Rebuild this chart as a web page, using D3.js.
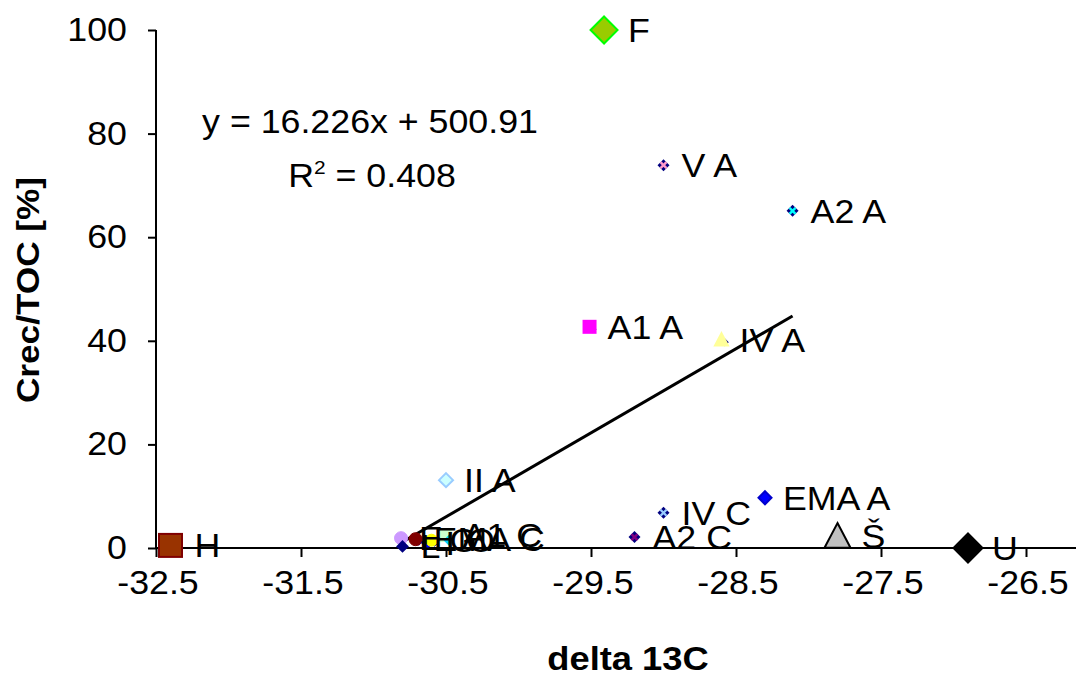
<!DOCTYPE html>
<html>
<head>
<meta charset="utf-8">
<script src="https://cdn.jsdelivr.net/npm/d3@7"></script>
<style>
  body { margin: 0; background: #fff; }
  svg { font-family: Arial, "Liberation Sans", sans-serif; }
</style>
</head>
<body>
<script>
// sample labels and their values (delta 13C, Crec/TOC %)
var labels = ['H', 'F', 'U', 'Š', 'V A', 'A2 A', 'A1 A', 'IV A', 'II A', 'IV C', 'EMA A', 'A2 C',
              'E', 'L', 'EMA C', 'I', 'G', 'A1 C', 'O'];
var deltaC = [-32.4, -29.41, -26.9, -27.8, -29.0, -28.11, -29.51, -28.6, -30.5, -29.0, -28.3, -29.2,
              -30.81, -30.8, -30.71, -30.63, -30.6, -30.51, -30.48];
var crecToc = [0.5, 100, 0, 2.3, 73.9, 65.1, 42.7, 40.2, 13.1, 6.8, 9.7, 2.1,
               1.9, 0.3, 1.7, 1.0, 1.5, 2.5, 1.5];
var xTicks = [-32.5, -31.5, -30.5, -29.5, -28.5, -27.5, -26.5];
var yTicks = [0, 20, 40, 60, 80, 100];
// trend line from the regression shown on the chart
var slope = 16.226, intercept = 500.91, r2 = 0.408;
var trendRange = [-30.8, -28.11];

// marker look for each label
var marks = {
  'H':     {shape: 'square',   size: 23, fill: '#993300', stroke: '#800000'},
  'F':     {shape: 'diamond',  size: 27, fill: '#99cc00', stroke: '#00ff00'},
  'U':     {shape: 'diamond',  size: 29, fill: '#000000', stroke: '#000000'},
  'Š':     {shape: 'triangle', size: 26, fill: '#c0c0c0', stroke: '#000000'},
  'V A':   {shape: 'star',     size: 12, fill: '#ff99cc', stroke: '#000080'},
  'A2 A':  {shape: 'star',     size: 12, fill: '#00ffff', stroke: '#000080'},
  'A1 A':  {shape: 'square',   size: 12, fill: '#ff00ff', stroke: '#ff00ff', back: true},
  'IV A':  {shape: 'triangle', size: 13, fill: '#ffff99', stroke: '#ffff99', back: true},
  'II A':  {shape: 'diamond',  size: 14, fill: '#ccffff', stroke: '#99ccff'},
  'IV C':  {shape: 'star',     size: 12, fill: '#99ccff', stroke: '#000080'},
  'EMA A': {shape: 'diamond',  size: 13, fill: '#0000ff', stroke: '#0000cc'},
  'A2 C':  {shape: 'star',     size: 12, fill: '#800080', stroke: '#000080'},
  'E':     {shape: 'circle',   size: 13, fill: '#cc99ff', stroke: '#cc99ff'},
  'L':     {shape: 'diamond',  size: 10, fill: '#000080', stroke: '#000080'},
  'EMA C': {shape: 'circle',   size: 13, fill: '#800000', stroke: '#800000', back: true},
  'I':     {shape: 'diamond',  size: 10, fill: '#0000ff', stroke: '#0000ff'},
  'G':     {shape: 'circle',   size: 12, fill: '#ffff00', stroke: '#ffff00', back: true},
  'A1 C':  {shape: 'square',   size: 12, fill: '#ccffcc', stroke: '#ccffcc', back: true},
  'O':     {shape: 'diamond',  size: 8,  fill: '#00ccff', stroke: '#00ccff'}
};

var W = 1078, H = 679;
var FS = 32.5, SX = 1.1; // font size and horizontal stretch of the original
var svg = d3.select('body').append('svg').attr('width', W).attr('height', H);

var x = d3.scaleLinear().domain([-32.5, -26.5]).range([156, 1026]);
var y = d3.scaleLinear().domain([0, 100]).range([548, 30]);

// stretched text helper
function stext(parent, px, py, str, anchor, size, weight) {
  return parent.append('text')
    .attr('transform', 'translate(' + px + ',' + py + ') scale(' + SX + ',1)')
    .attr('text-anchor', anchor || 'start')
    .attr('font-size', size || FS)
    .attr('font-weight', weight || 'normal')
    .attr('fill', '#000')
    .text(str);
}

// y axis
var yAxis = svg.append('g').attr('transform', 'translate(156,0)')
  .call(d3.axisLeft(y).tickValues(yTicks).tickSize(8).tickFormat(''));
yAxis.select('.domain').attr('d', 'M0,' + y(100) + 'V' + y(0)).attr('stroke-width', 2);
yAxis.selectAll('.tick line').attr('stroke-width', 2);
yTicks.forEach(function(v){ stext(svg, 127, y(v) + 11, d3.format('d')(v), 'end'); });

// x axis
var xAxis = svg.append('g').attr('transform', 'translate(0,' + y(0) + ')')
  .call(d3.axisBottom(x).tickValues(xTicks).tickSize(9).tickFormat(''));
xAxis.select('.domain').attr('d', 'M156,0H1076').attr('stroke-width', 2);
xAxis.selectAll('.tick line').attr('stroke-width', 2);
xTicks.forEach(function(v){ stext(svg, x(v) + 2, 594, v.toFixed(1), 'middle'); });

// axis titles
stext(svg, 628, 670, 'delta 13C', 'middle', 33, 'bold');
svg.append('text').attr('transform', 'translate(39,290) rotate(-90) scale(' + SX + ',1)').attr('text-anchor', 'middle')
  .attr('font-size', 32).attr('font-weight', 'bold').text('Crec/TOC [%]');

// trend line
svg.append('line')
  .attr('x1', x(trendRange[0])).attr('y1', y(slope * trendRange[0] + intercept))
  .attr('x2', x(trendRange[1])).attr('y2', y(slope * trendRange[1] + intercept))
  .attr('stroke', '#000').attr('stroke-width', 3);

// equation
stext(svg, 370, 133, 'y = ' + slope + 'x + ' + intercept, 'middle');
var rt = stext(svg, 372, 187, '', 'middle');
rt.append('tspan').text('R');
rt.append('tspan').attr('font-size', 19).attr('dy', -13).text('2');
rt.append('tspan').attr('dy', 13).text(' = ' + r2);

var pts = labels.map(function(l, i){ return {label: l, x: deltaC[i], y: crecToc[i], m: marks[l]}; });

function drawMark(g, m) {
  var s = m.size;
  if (m.back) {
    // small navy diamond peeking out behind (overlapped series)
    g.append('path').attr('d', 'M0,-4L4,0L0,4L-4,0Z').attr('fill', '#000080')
      .attr('transform', 'translate(' + (s * 0.25) + ',' + (s * 0.2) + ')');
  }
  if (m.shape === 'square') {
    g.append('rect').attr('x', -s / 2).attr('y', -s / 2).attr('width', s).attr('height', s)
      .attr('fill', m.fill).attr('stroke', m.stroke).attr('stroke-width', 2);
  } else if (m.shape === 'diamond') {
    var h = s / 2;
    g.append('path').attr('d', 'M0,' + (-h) + 'L' + h + ',0L0,' + h + 'L' + (-h) + ',0Z')
      .attr('fill', m.fill).attr('stroke', m.stroke).attr('stroke-width', 2);
  } else if (m.shape === 'triangle') {
    var t = s / 2;
    g.append('path').attr('d', 'M0,' + (-t) + 'L' + t + ',' + (t * 0.9) + 'L' + (-t) + ',' + (t * 0.9) + 'Z')
      .attr('fill', m.fill).attr('stroke', m.stroke).attr('stroke-width', 2);
  } else if (m.shape === 'circle') {
    g.append('circle').attr('r', s / 2).attr('fill', m.fill).attr('stroke', m.stroke);
  } else if (m.shape === 'star') {
    var k = s / 2;
    g.append('path').attr('d', 'M0,' + (-k) + 'L' + k + ',0L0,' + k + 'L' + (-k) + ',0Z').attr('fill', m.stroke);
    g.append('path').attr('d', 'M-3,-3L3,3M3,-3L-3,3').attr('stroke', m.fill).attr('stroke-width', 2.4);
  }
}

var g = svg.append('g');
pts.forEach(function(p){
  var mg = g.append('g').attr('transform', 'translate(' + x(p.x) + ',' + y(p.y) + ')');
  drawMark(mg, p.m);
});
pts.forEach(function(p){
  var off = p.m.size > 20 ? 24 : 18;
  stext(g, x(p.x) + off, y(p.y) + 12, p.label);
});
</script>
</body>
</html>
